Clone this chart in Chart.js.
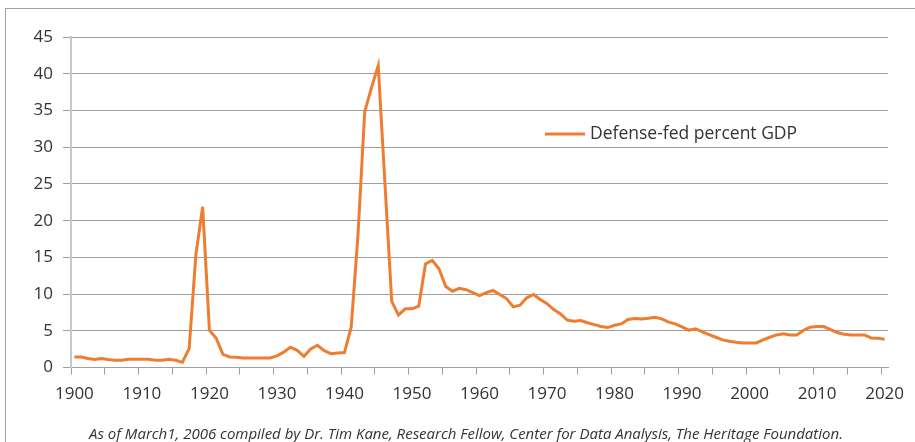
<!DOCTYPE html>
<html>
<head>
<meta charset="utf-8">
<script src="https://cdn.jsdelivr.net/npm/chart.js@4.4.1/dist/chart.umd.min.js"></script>
<style>
    html, body { margin: 0; padding: 0; background: #fff; overflow: hidden; }
    #wrap { position: relative; width: 915px; height: 442px; }
    #frame {
        position: absolute; left: 5px; top: 8px; width: 1000px; height: 1000px;
        border-left: 1px solid #a0a0a0; border-top: 1px solid #a0a0a0;
    }
    #chart { position: absolute; left: 0; top: 0; }
    #caption {
        position: absolute; left: 0; top: 424px; width: 932px;
        text-align: center; white-space: nowrap;
        font: italic 15px/18px 'Open Sans', 'Noto Sans', sans-serif;
        color: #333;
    }
</style>
</head>
<body>
<div id="wrap">
    <div id="frame"></div>
    <canvas id="chart" width="915" height="442"></canvas>
    <div id="caption"></div>
</div>
<script>
// Category labels: one per year, 1900 to 2020
const years = Array.from({ length: 121 }, (_, i) => 1900 + i);

// Defense spending as percent of GDP (1900..2020)
const defenseGdp = [
    1.45, 1.45, 1.23, 1.1, 1.23, 1.1, 1.0, 1.0, 1.13, 1.13,      // 1900s
    1.13, 1.13, 1.0, 1.0, 1.13, 1.0, 0.72, 2.6, 15.4, 21.9,      // 1910s
    5.1, 4.0, 1.8, 1.45, 1.4, 1.3, 1.3, 1.3, 1.3, 1.3,           // 1920s
    1.6, 2.1, 2.77, 2.35, 1.54, 2.55, 3.04, 2.3, 1.9, 2.0,       // 1930s
    2.05, 5.5, 18, 34.8, 38.1, 41.1, 25, 9.0, 7.15, 8.0,         // 1940s
    8.0, 8.36, 14.1, 14.6, 13.45, 11.05, 10.4, 10.8, 10.6, 10.2, // 1950s
    9.8, 10.2, 10.5, 9.95, 9.4, 8.27, 8.5, 9.5, 9.95, 9.27,      // 1960s
    8.7, 7.9, 7.3, 6.45, 6.3, 6.4, 6.1, 5.85, 5.6, 5.45,         // 1970s
    5.77, 5.95, 6.55, 6.68, 6.6, 6.72, 6.86, 6.63, 6.18, 5.95,   // 1980s
    5.54, 5.09, 5.27, 4.86, 4.5, 4.13, 3.77, 3.59, 3.45, 3.36,   // 1990s
    3.36, 3.36, 3.77, 4.13, 4.45, 4.59, 4.45, 4.45, 5.09, 5.5,   // 2000s
    5.59, 5.59, 5.18, 4.77, 4.54, 4.45, 4.45, 4.45, 4.04, 4.0,   // 2010s
    3.86                                                         // 2020
];

const seriesLabel = 'Defense-fed percent GDP';
const captionText = 'As of March1, 2006 compiled by Dr. Tim Kane, Research Fellow, Center for Data Analysis, The Heritage Foundation.';

const LINE_COLOR = '#ED7D31';
const GRID_COLOR = '#9e9e9e';
const TEXT_COLOR = '#333333';
const FONT_FAMILY = "'Open Sans', 'Noto Sans', sans-serif";

// Legend drawn inside the plot, to the right of the post-war decline
const insideLegend = {
    id: 'insideLegend',
    afterDraw(chart) {
        const ctx = chart.ctx;
        const ds = chart.data.datasets[0];
        const y = 134;
        ctx.save();
        ctx.strokeStyle = ds.borderColor;
        ctx.lineWidth = 3;
        ctx.beginPath();
        ctx.moveTo(545, y);
        ctx.lineTo(585, y);
        ctx.stroke();
        ctx.fillStyle = TEXT_COLOR;
        ctx.font = `17.5px ${FONT_FAMILY}`;
        ctx.textBaseline = 'middle';
        ctx.textAlign = 'left';
        ctx.fillText(ds.label, 590, y);
        ctx.restore();
    }
};

function initChart() {
    document.getElementById('caption').textContent = captionText;

    const ctx = document.getElementById('chart').getContext('2d');
    new Chart(ctx, {
        type: 'line',
        data: {
            labels: years,
            datasets: [{
                label: seriesLabel,
                data: defenseGdp,
                borderColor: LINE_COLOR,
                backgroundColor: LINE_COLOR,
                borderWidth: 3,
                pointRadius: 0,
                tension: 0,
                fill: false
            }]
        },
        options: {
            responsive: false,
            animation: false,
            layout: { padding: { left: 0, right: 27, top: 37, bottom: 28 } },
            plugins: {
                legend: { display: false },
                tooltip: { enabled: false }
            },
            scales: {
                x: {
                    type: 'category',
                    offset: true,
                    grid: {
                        offset: true,
                        drawOnChartArea: false,
                        tickLength: 7,
                        color: c => (c.index !== undefined && c.index % 5 === 0) ? GRID_COLOR : 'rgba(0,0,0,0)'
                    },
                    border: { color: GRID_COLOR, width: 1 },
                    ticks: {
                        autoSkip: false,
                        maxRotation: 0,
                        padding: 9.5,
                        color: TEXT_COLOR,
                        font: { family: FONT_FAMILY, size: 17 },
                        callback: (val, i) => years[i] % 10 === 0 ? String(years[i]) : ''
                    }
                },
                y: {
                    min: 0,
                    max: 45,
                    afterFit: scale => { scale.width = 71; },
                    grid: { color: GRID_COLOR, tickLength: 8 },
                    border: { color: '#c8c8c8', width: 2 },
                    ticks: {
                        stepSize: 5,
                        padding: 10,
                        color: TEXT_COLOR,
                        font: { family: FONT_FAMILY, size: 17 }
                    }
                }
            }
        },
        plugins: [insideLegend]
    });
}

initChart();
</script>
</body>
</html>
